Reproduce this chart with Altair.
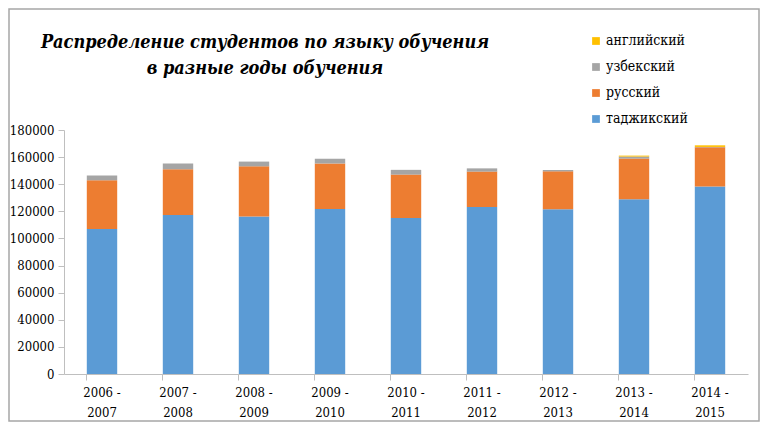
import altair as alt
import pandas as pd

years = ["2006 - 2007", "2007 - 2008", "2008 - 2009", "2009 - 2010", "2010 - 2011",
         "2011 - 2012", "2012 - 2013", "2013 - 2014", "2014 - 2015"]
tajik = [107000, 117300, 116100, 121800, 115100, 123200, 121500, 128900, 138400]
russian = [36000, 33700, 37100, 33400, 32000, 26100, 28000, 30000, 28800]
uzbek = [3400, 4200, 3500, 3500, 3500, 2400, 1000, 1500, 300]
english = [0, 0, 0, 0, 0, 0, 0, 700, 1200]

title_lines = ["Распределение студентов по языку обучения", "в разные годы обучения"]

langs = ["таджикский", "русский", "узбекский", "английский"]
series = [tajik, russian, uzbek, english]
colors = {"английский": "#FFC000", "узбекский": "#A5A5A5", "русский": "#ED7D31", "таджикский": "#5B9BD5"}

rows = []
for k, (lang, vals) in enumerate(zip(langs, series)):
    for y, v in zip(years, vals):
        rows.append({"year": y, "lang": lang, "value": v, "ord": k})
df = pd.DataFrame(rows)

legend_order = ["английский", "узбекский", "русский", "таджикский"]
FONT = "DejaVu Serif Condensed"

bars = alt.Chart(df).mark_bar().encode(
    x=alt.X("year:N", sort=years, title=None,
            scale=alt.Scale(paddingInner=0.6, paddingOuter=0.3),
            axis=alt.Axis(labelAngle=0, bandPosition=0,
                          labelExpr="[substring(datum.label,0,6), substring(datum.label,7)]",
                          labelFont=FONT, labelFontSize=13, labelColor="#000000",
                          labelLineHeight=20, labelPadding=6,
                          domainColor="#BFBFBF", tickColor="#BFBFBF", tickSize=6)),
    y=alt.Y("value:Q", title=None, stack="zero",
            scale=alt.Scale(domain=[0, 180000]),
            axis=alt.Axis(values=list(range(0, 180001, 20000)), grid=False, format="d",
                          labelFont=FONT, labelFontSize=13, labelColor="#000000",
                          labelPadding=4, domainColor="#BFBFBF", tickColor="#BFBFBF", tickSize=6)),
    color=alt.Color("lang:N",
                    scale=alt.Scale(domain=legend_order, range=[colors[l] for l in legend_order]),
                    legend=alt.Legend(title=None, orient="none", legendX=525, legendY=-96,
                                      symbolType="square", symbolSize=60, symbolStrokeWidth=0,
                                      labelFont=FONT, labelFontSize=14, labelColor="#000000",
                                      rowPadding=12, labelOffset=3)),
    order=alt.Order("ord:Q", sort="ascending"),
)

title = alt.Chart(pd.DataFrame({"t": [title_lines]})).mark_text(
    font=FONT, fontSize=18, fontStyle="italic", fontWeight="bold", color="#000000",
    align="center", baseline="top", lineHeight=26
).encode(text="t", x=alt.value(201), y=alt.value(-96))

border = alt.Chart(pd.DataFrame({"a": [0]})).mark_rect(
    fill=None, stroke="#A6A6A6", strokeWidth=1.5
).encode(x=alt.value(-55), x2=alt.value(695), y=alt.value(-121), y2=alt.value(291))

chart = alt.layer(bars, title, border).properties(
    width=684, height=244,
    autosize=alt.AutoSizeParams(type="none"),
    padding={"left": 56, "top": 122, "right": 12, "bottom": 48},
).configure_view(stroke=None)

chart.save("out.html", embed_options={"renderer": "svg", "actions": False})
